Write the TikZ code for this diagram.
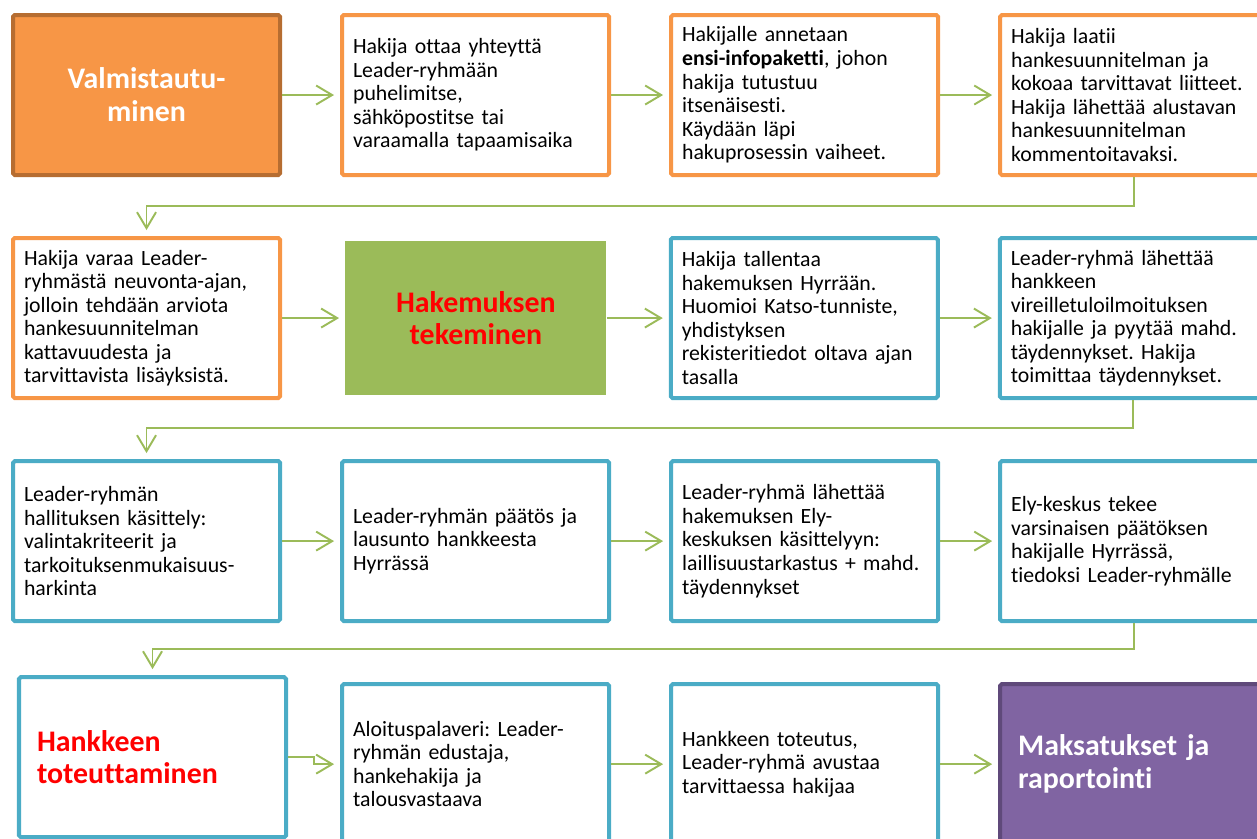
\documentclass[tikz,border=0pt]{standalone}
\usepackage{fontspec}
\setmainfont{Carlito}[Ligatures={NoCommon}]
\usetikzlibrary{arrows.meta,positioning}
\definecolor{orng}{HTML}{F79646}
\definecolor{orngdark}{HTML}{B66D31}
\definecolor{blu}{HTML}{4BACC6}
\definecolor{grn}{HTML}{9BBB59}
\definecolor{purp}{HTML}{8064A2}
\definecolor{purpdark}{HTML}{5F497A}
\definecolor{redtxt}{HTML}{FF0000}
\frenchspacing

\begin{document}
\begin{tikzpicture}[>={Straight Barb[length=0.32cm,width=0.38cm]},
    node distance=1.16cm,
    box/.style={draw, line width=2.3pt, rounded corners=1pt, fill=white,
      text width=4.9cm, inner xsep=0.22cm, minimum height=3.2cm,
      align=left, font=\fontsize{12.4}{13.4}\selectfont},
    orbox/.style={box, draw=orng},
    blbox/.style={box, draw=blu},
    title/.style={font=\fontsize{17}{18.7}\selectfont\bfseries},
    flow/.style={->, draw=grn, line width=1.1pt, shorten >=0.12cm}]

  \useasboundingbox (0,0) rectangle (25.14,-16.76);
  \clip (0,0) rectangle (25.14,-16.76);

  % rivi 1
  \node[box, fill=orng, draw=orngdark, text=white, align=center, title,
        anchor=north west] (valm) at (0.22,-0.26) {Valmistautu-\\minen};
  \node[orbox] (yht) [right=of valm] {Hakija ottaa yhteyttä\\Leader-ryhmään\\puhelimitse,\\sähköpostitse tai\\varaamalla tapaamisaika};
  \node[orbox] (info) [right=of yht] {Hakijalle annetaan\\\textbf{ensi-infopaketti}, johon\\hakija tutustuu\\itsenäisesti.\\Käydään läpi\\hakuprosessin vaiheet.};
  \node[orbox] (suunn) [right=of info] {Hakija laatii\\hankesuunnitelman ja\\kokoaa tarvittavat liitteet.\\Hakija lähettää alustavan\\hankesuunnitelman\\kommentoitavaksi.};

  % rivi 2
  \node[orbox] (neuv) [below=1.18cm of valm] {Hakija varaa Leader-\\ryhmästä neuvonta-ajan,\\jolloin tehdään arviota\\hankesuunnitelman\\kattavuudesta ja\\tarvittavista lisäyksistä.};
  \node[fill=grn, minimum width=5.22cm, minimum height=3.08cm, align=center,
        text=redtxt, title] (hakem) [right=1.26cm of neuv] {Hakemuksen\\tekeminen};
  \node[blbox] (hyrra) [right=1.24cm of hakem] {Hakija tallentaa\\hakemuksen Hyrrään.\\Huomioi Katso-tunniste,\\yhdistyksen\\rekisteritiedot oltava ajan\\tasalla};
  \node[blbox] (vireil) [right=of hyrra] {Leader-ryhmä lähettää\\hankkeen\\vireilletuloilmoituksen\\hakijalle ja pyytää mahd.\\täydennykset. Hakija\\toimittaa täydennykset.};

  % rivi 3
  \node[blbox] (halli) [below=1.18cm of neuv] {Leader-ryhmän\\hallituksen käsittely:\\valintakriteerit ja\\tarkoituksenmukaisuus-\\harkinta};
  \node[blbox] (paatos) [right=of halli] {Leader-ryhmän päätös ja\\lausunto hankkeesta\\Hyrrässä};
  \node[blbox] (ely) [right=of paatos] {Leader-ryhmä lähettää\\hakemuksen Ely-\\keskuksen käsittelyyn:\\\mbox{laillisuustarkastus + mahd.}\\täydennykset};
  \node[blbox] (elypaat) [right=of ely] {Ely-keskus tekee\\varsinaisen päätöksen\\hakijalle Hyrrässä,\\tiedoksi Leader-ryhmälle};

  % rivi 4
  \node[blbox, text=redtxt, title, inner xsep=0.36cm, text width=4.62cm]
        (toteut) [below=1.04cm of halli, xshift=0.12cm] {Hankkeen\\toteuttaminen};
  \node[blbox] (aloit) [below=1.18cm of paatos] {Aloituspalaveri: Leader-\\ryhmän edustaja,\\hankehakija ja\\talousvastaava};
  \node[blbox] (toteutus) [right=of aloit] {Hankkeen toteutus,\\Leader-ryhmä avustaa\\tarvittaessa hakijaa};
  \node[box, fill=purp, draw=purpdark, text=white, title, inner xsep=0.36cm,
        text width=4.62cm] (maks) [right=of toteutus] {Maksatukset ja\\raportointi};

  \path[flow] (valm) edge (yht)
              (yht) edge (info)
              (info) edge (suunn)
              (neuv) edge (hakem)
              (hakem) edge (hyrra)
              (hyrra) edge (vireil)
              (halli) edge (paatos)
              (paatos) edge (ely)
              (ely) edge (elypaat)
              (aloit) edge (toteutus)
              (toteutus) edge (maks);

  \draw[flow] (suunn.south) -- ++(0,-0.58) -| (neuv.north);
  \draw[flow] (vireil.south) -- ++(0,-0.56) -| (halli.north);
  \draw[flow] (elypaat.south) -- ++(0,-0.52) -| (toteut.north);
  \draw[flow] (toteut.east) -- ++(0.52,0) |- (aloit.west);
\end{tikzpicture}
\end{document}
